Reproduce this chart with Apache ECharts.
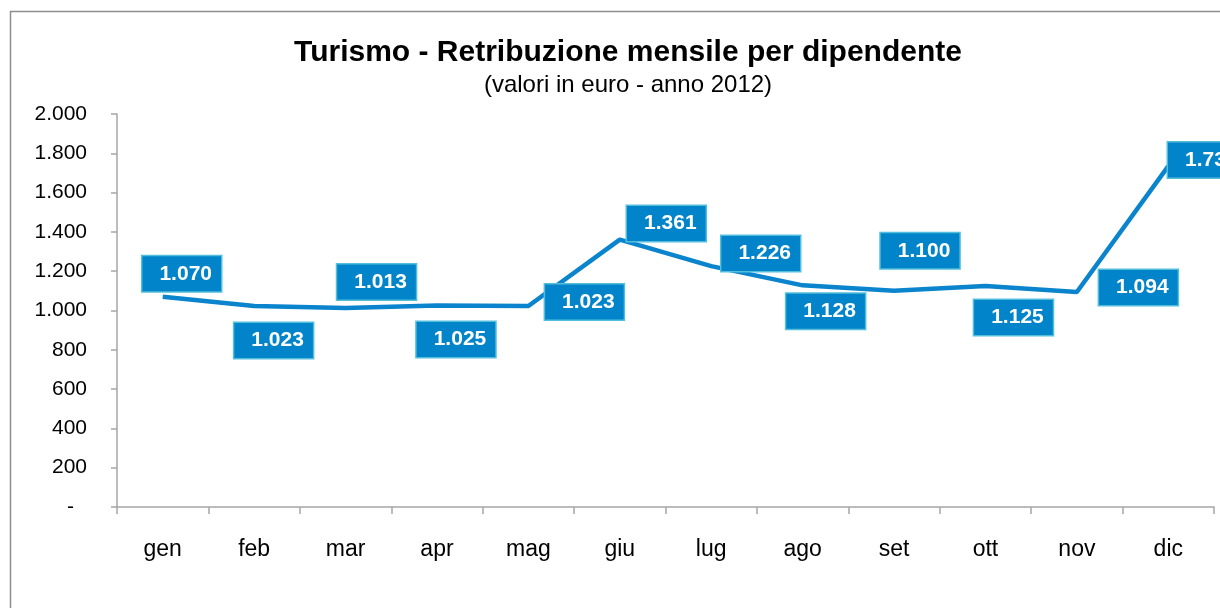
<!DOCTYPE html>
<html>
<head>
<meta charset="utf-8">
<script src="https://cdn.jsdelivr.net/npm/echarts@6/dist/echarts.min.js"></script>
<style>
html,body{margin:0;padding:0;background:#fff;}
#chart{width:1220px;height:608px;}
</style>
</head>
<body>
<div id="chart"></div>
<script>
const titleText = 'Turismo - Retribuzione mensile per dipendente';
const subtitleText = '(valori in euro - anno 2012)';
const categories = ['gen','feb','mar','apr','mag','giu','lug','ago','set','ott','nov','dic'];
const values = [1070, 1023, 1013, 1025, 1023, 1361, 1226, 1128, 1100, 1125, 1094, 1735];
const yMin = 0, yMax = 2000, yStep = 200;
// label box offsets from each point (layout only)
const labelOffsets = [[19,-23],[19.5,34.5],[31,-26],[19,34],[56,-4],[46.5,-16],[49.5,-12.5],[23,26],[26,-40],[28,31.5],[61.5,-4.5],[39,-6]];

const FONT = '"Liberation Sans", Arial, sans-serif';
const fmt = v => String(v).replace(/\B(?=(\d{3})+(?!\d))/g, '.');

const chart = echarts.init(document.getElementById('chart'), null, {renderer: 'canvas'});
chart.setOption({
  animation: false,
  backgroundColor: '#ffffff',
  graphic: [
    {type: 'rect', shape: {x: 10.5, y: 11.5, width: 1400, height: 800}, style: {fill: 'none', stroke: '#8e8e8e', lineWidth: 1.5}, silent: true, z: -10},
    {type: 'text', style: {text: titleText, x: 628, y: 53, textAlign: 'center', textVerticalAlign: 'middle', font: 'bold 30px ' + FONT, fill: '#000'}},
    {type: 'text', style: {text: subtitleText, x: 628, y: 85, textAlign: 'center', textVerticalAlign: 'middle', font: '24px ' + FONT, fill: '#000'}}
  ],
  grid: {left: 117, right: 6, top: 114, bottom: 101, containLabel: false, outerBoundsMode: 'none'},
  xAxis: {
    type: 'category',
    data: categories,
    boundaryGap: true,
    axisLine: {show: true, lineStyle: {color: '#a6a6a6', width: 1.5}},
    axisTick: {show: true, length: 7, lineStyle: {color: '#a6a6a6', width: 1.5}},
    axisLabel: {fontFamily: FONT, fontSize: 23, color: '#000', margin: 31, interval: 0}
  },
  yAxis: {
    type: 'value',
    min: yMin, max: yMax, interval: yStep,
    splitLine: {show: false},
    axisLine: {show: true, lineStyle: {color: '#a6a6a6', width: 1.5}},
    axisTick: {show: true, length: 6, lineStyle: {color: '#a6a6a6', width: 1.5}},
    axisLabel: {
      fontFamily: FONT, fontSize: 21, color: '#000', margin: 30,
      formatter: v => v === 0 ? '{d|-}' : fmt(v),
      rich: {d: {fontFamily: FONT, fontSize: 21, color: '#000', padding: [0, 13, 0, 0]}}
    }
  },
  series: [{
    type: 'line',
    data: values.map((v, i) => ({value: v, label: {offset: labelOffsets[i]}})),
    symbol: 'circle',
    symbolSize: 0.1,
    showSymbol: true,
    lineStyle: {color: '#0a84cc', width: 4.5},
    itemStyle: {color: '#0a84cc'},
    label: {
      show: true,
      position: 'inside',
      align: 'center',
      verticalAlign: 'middle',
      formatter: p => fmt(p.value),
      fontFamily: FONT,
      fontSize: 21,
      fontWeight: 'bold',
      color: '#ffffff',
      lineHeight: 22,
      backgroundColor: '#0184ca',
      borderColor: '#52bedb',
      borderWidth: 1.5,
      padding: [8, 9, 5, 17]
    },
    z: 3
  }]
});
</script>
</body>
</html>
